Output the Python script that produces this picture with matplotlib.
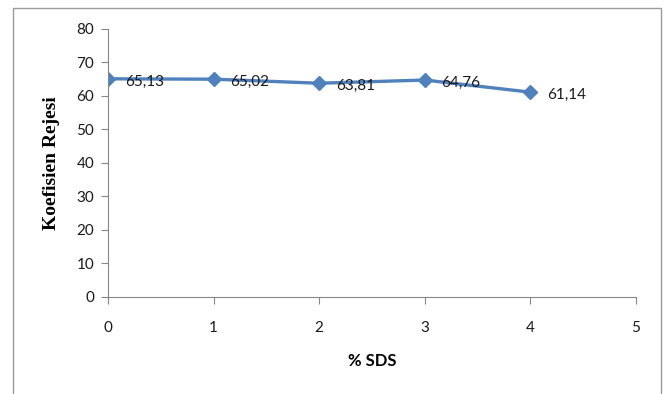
import matplotlib.pyplot as plt
from matplotlib.patches import Rectangle

# data
sds = [0, 1, 2, 3, 4]
rejeksi = [65.13, 65.02, 63.81, 64.76, 61.14]
labels = ["65,13", "65,02", "63,81", "64,76", "61,14"]

plt.rcParams['font.family'] = ['Lato', 'DejaVu Sans']

fig = plt.figure(figsize=(6.64, 3.94), dpi=100)
ax = fig.add_axes([0.1627, 0.2462, 0.7951, 0.6802])

# outer frame of the chart area
fig.patches.append(Rectangle((13 / 664, -0.05), 648 / 664, 1.05 - 8 / 394,
                             transform=fig.transFigure, fill=False,
                             edgecolor="#9a9a9a", linewidth=1.0))

ax.plot(sds, rejeksi, color="#4F81BD", linewidth=2.4, marker="D",
        markersize=7, markeredgecolor="#4F81BD", solid_capstyle="round")

for x, y, t in zip(sds, rejeksi, labels):
    ax.annotate(t, (x, y), xytext=(12, -2), textcoords="offset points",
                ha="left", va="center", fontsize=11, color="#1a1a1a")

ax.set_xlim(0, 5)
ax.set_ylim(0, 80)
ax.set_xticks(range(0, 6))
ax.set_yticks(range(0, 81, 10))

for s in ["top", "right"]:
    ax.spines[s].set_visible(False)
for s in ["left", "bottom"]:
    ax.spines[s].set_color("#868686")
ax.tick_params(axis="both", colors="#868686", labelcolor="#1a1a1a",
               labelsize=11, length=5, direction="out")
ax.tick_params(axis="x", pad=12)
ax.tick_params(axis="y", pad=5)

ax.set_ylabel("Koefisien Rejesi", family=["Liberation Serif", "DejaVu Serif"],
              fontweight="bold", fontsize=14, labelpad=12)
ax.set_xlabel("% SDS", fontweight="bold", fontsize=12, labelpad=13)

fig.savefig("out.png", dpi=100)
